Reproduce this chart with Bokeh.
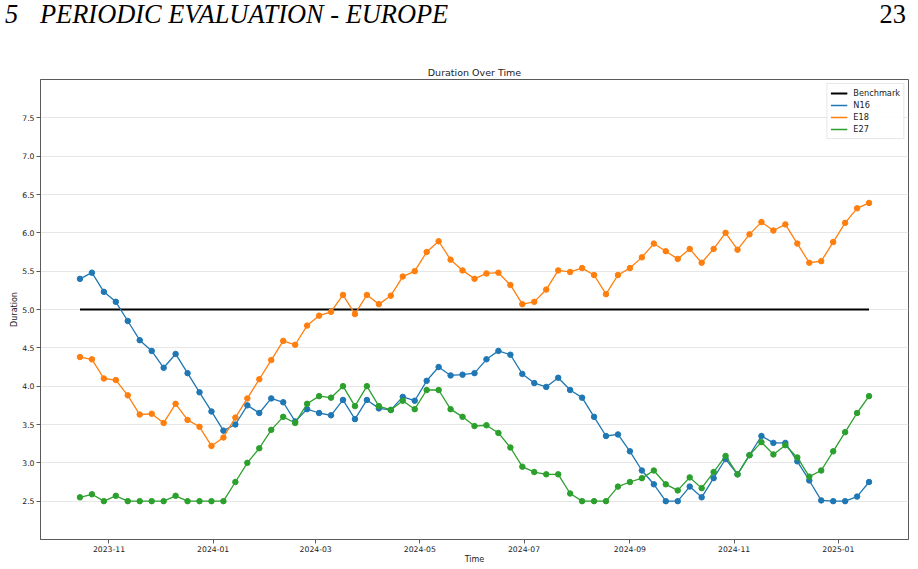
import pandas as pd
from bokeh.plotting import figure
from bokeh.layouts import column
from bokeh.models import Range1d, FixedTicker, DatetimeTickFormatter, MonthsTicker, PrintfTickFormatter, Div
from bokeh.embed import file_html
from bokeh.resources import INLINE

# ---- data ----
start_date = "2023-10-15"
n_weeks = 67
dates = pd.date_range(start_date, periods=n_weeks, freq="7D")

benchmark = 5.0

n16 = [5.40, 5.48, 5.23, 5.10, 4.85, 4.60, 4.46, 4.24, 4.42, 4.17,
       3.92, 3.67, 3.42, 3.50, 3.75, 3.65, 3.84, 3.79, 3.54, 3.70,
       3.65, 3.62, 3.82, 3.57, 3.82, 3.71, 3.69, 3.86, 3.81, 4.07,
       4.25, 4.14, 4.15, 4.17, 4.35, 4.46, 4.41, 4.16, 4.04, 3.99,
       4.11, 3.95, 3.85, 3.60, 3.35, 3.37, 3.15, 2.90, 2.72, 2.50,
       2.50, 2.69, 2.55, 2.80, 3.05, 2.85, 3.10, 3.35, 3.26, 3.26,
       3.02, 2.77, 2.51, 2.50, 2.50, 2.56, 2.75]

e18 = [4.38, 4.35, 4.10, 4.08, 3.88, 3.63, 3.64, 3.52, 3.77, 3.56,
       3.47, 3.22, 3.33, 3.59, 3.84, 4.09, 4.34, 4.59, 4.54, 4.79,
       4.92, 4.97, 5.19, 4.94, 5.19, 5.07, 5.18, 5.43, 5.50, 5.75,
       5.89, 5.65, 5.51, 5.40, 5.47, 5.48, 5.32, 5.07, 5.10, 5.26,
       5.51, 5.49, 5.54, 5.45, 5.20, 5.45, 5.54, 5.68, 5.86, 5.76,
       5.66, 5.79, 5.61, 5.79, 6.00, 5.78, 5.98, 6.14, 6.03, 6.11,
       5.86, 5.61, 5.63, 5.88, 6.13, 6.32, 6.39]

e27 = [2.55, 2.59, 2.50, 2.57, 2.50, 2.50, 2.50, 2.50, 2.57, 2.50,
       2.50, 2.50, 2.50, 2.75, 3.00, 3.19, 3.43, 3.60, 3.52, 3.77,
       3.87, 3.85, 4.00, 3.74, 4.00, 3.74, 3.69, 3.81, 3.70, 3.95,
       3.95, 3.70, 3.60, 3.48, 3.49, 3.39, 3.20, 2.95, 2.88, 2.85,
       2.85, 2.60, 2.50, 2.50, 2.50, 2.69, 2.75, 2.80, 2.90, 2.72,
       2.64, 2.81, 2.67, 2.88, 3.09, 2.85, 3.10, 3.27, 3.11, 3.23,
       3.07, 2.82, 2.90, 3.15, 3.40, 3.65, 3.87]

series_names = ["N16", "E18", "E27"]
series_colors = ["#1f77b4", "#ff7f0e", "#2ca02c"]
y_ticks = [2.5, 3.0, 3.5, 4.0, 4.5, 5.0, 5.5, 6.0, 6.5, 7.0, 7.5]
y_limits = (2.0, 8.0)

chart_title = "Duration Over Time"
x_label = "Time"
y_label = "Duration"
header_number = "5"
header_text = "PERIODIC EVALUATION - EUROPE"
page_number = "23"

FONT = "DejaVu Sans"
SERIF = "Liberation Serif"

W = 918
HEADER_H = 50
MAIN_H = 569 - HEADER_H
LEFT, RIGHT = 40, 10

# ---- page header (HTML text) ----
span_style = "position:absolute;top:1px;line-height:26px;white-space:nowrap;"
header_html = (
    f'<div style="position:relative;width:{W}px;height:{HEADER_H}px;'
    f"font-family:'{SERIF}';font-size:26.4px;color:black;\">"
    f'<span style="{span_style}left:5px;font-style:italic;">{header_number}</span>'
    f'<span style="{span_style}left:40px;font-style:italic;">{header_text}</span>'
    f'<span style="{span_style}right:12px;">{page_number}</span>'
    '</div>'
)
h = Div(text=header_html, width=W, height=HEADER_H, margin=0)

# ---- chart ----
span = dates[-1] - dates[0]
pad = span * 0.05
x_range = Range1d(start=(dates[0] - pad).to_pydatetime(), end=(dates[-1] + pad).to_pydatetime())

p = figure(width=W, height=MAIN_H, x_axis_type="datetime",
           x_range=x_range, y_range=Range1d(*y_limits),
           output_backend="svg", toolbar_location=None,
           title=chart_title,
           min_border_left=LEFT, min_border_right=RIGHT,
           min_border_top=79 - HEADER_H, min_border_bottom=30)
p.background_fill_color = "white"
p.border_fill_color = "white"
p.outline_line_color = "#5a5a5a"
p.outline_line_width = 1

p.title.align = "center"
p.title.text_font = FONT
p.title.text_font_size = "9.5px"
p.title.text_font_style = "normal"
p.title.text_color = "#222222"
p.title.standoff = 4
p.title.offset = 0

# benchmark
p.line([dates[0], dates[-1]], [benchmark, benchmark], color="black",
       line_width=2, legend_label="Benchmark")

for name, col, vals in zip(series_names, series_colors, [n16, e18, e27]):
    p.line(dates, vals, color=col, line_width=1.3, legend_label=name)
    p.scatter(dates, vals, marker="circle", size=5.5, fill_color=col, line_color=col)

# axes
p.yaxis.ticker = FixedTicker(ticks=y_ticks)
p.yaxis.formatter = PrintfTickFormatter(format="%.1f")
p.xaxis.ticker = MonthsTicker(months=[0, 2, 4, 6, 8, 10])
fmt = "%Y-%m"
p.xaxis.formatter = DatetimeTickFormatter(days=fmt, months=fmt, years=fmt, hours=fmt)
for ax in (p.xaxis[0], p.yaxis[0]):
    ax.axis_line_color = "#5a5a5a"
    ax.major_tick_line_color = "#5a5a5a"
    ax.major_tick_in = 0
    ax.major_tick_out = 4
    ax.minor_tick_line_color = None
    ax.major_label_text_font = FONT
    ax.major_label_text_font_size = "7.7px"
    ax.major_label_text_color = "#222222"
    ax.axis_label_text_font = FONT
    ax.axis_label_text_font_size = "8px"
    ax.axis_label_text_font_style = "normal"
    ax.axis_label_text_color = "#222222"
p.xaxis.major_label_standoff = 2
p.yaxis.major_label_standoff = 2
p.xaxis.axis_label = x_label
p.yaxis.axis_label = y_label
p.xaxis.axis_label_standoff = 0
p.yaxis.axis_label_standoff = 0

p.xgrid.visible = False
p.ygrid.grid_line_color = "#e6e6e6"
p.ygrid.grid_line_width = 1

# legend
lg = p.legend[0]
lg.location = "top_right"
lg.margin = 4
lg.padding = 3
lg.spacing = 0
lg.label_height = 12
lg.glyph_height = 12
lg.glyph_width = 17
lg.label_standoff = 6
lg.label_text_font = FONT
lg.label_text_font_size = "8.2px"
lg.label_text_color = "#222222"
lg.border_line_color = "#d0d0d0"
lg.border_line_width = 1
lg.background_fill_alpha = 0.85

layout = column(h, p, spacing=0)
open("out.html", "w").write(file_html(layout, INLINE))
